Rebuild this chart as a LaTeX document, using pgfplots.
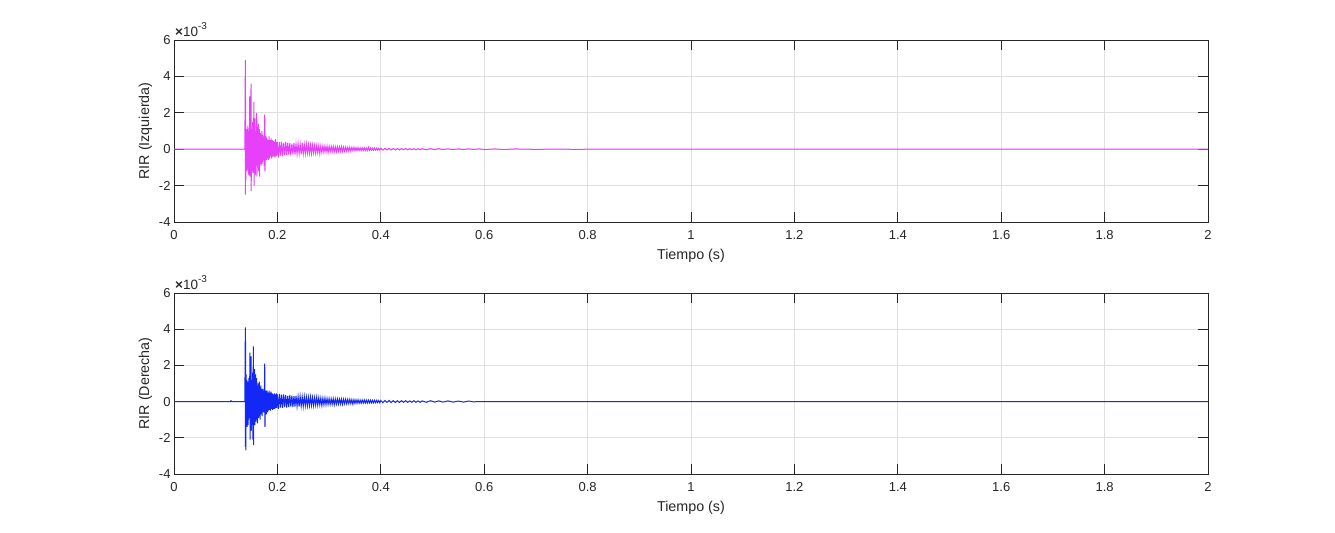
\documentclass[border=0pt]{standalone}
\usepackage{fontspec}
\setmainfont{Liberation Sans}
\usepackage{pgfplots}
\pgfplotsset{compat=1.18}

\definecolor{rirmag}{RGB}{230,64,250}
\definecolor{rirblue}{RGB}{20,40,245}
\definecolor{axgray}{RGB}{38,38,38}
\definecolor{gridgray}{RGB}{223,223,223}

\pgfplotsset{rirstyle/.style={
  scale only axis, width=1034bp,
  xmin=0, xmax=2, ymin=-4, ymax=6,
  xtick={0,0.2,0.4,0.6,0.8,1,1.2,1.4,1.6,1.8,2},
  xticklabels={0,0.2,0.4,0.6,0.8,1,1.2,1.4,1.6,1.8,2},
  ytick={-4,-2,0,2,4,6},
  yticklabels={-4,-2,0,2,4,6},
  grid=major, major grid style={gridgray, line width=0.8bp},
  axis line style={axgray, line width=0.8bp},
  tick style={axgray, line width=0.8bp},
  major tick length=10bp, tick align=inside,
  ticklabel style={font=\fontsize{13bp}{15bp}\selectfont, text=axgray},
  xticklabel style={yshift=-5bp},
  label style={font=\fontsize{14.3bp}{16bp}\selectfont, text=axgray},
  xlabel={Tiempo (s)},
  xlabel style={yshift=-3bp},
  clip mode=individual,
  every axis plot/.append style={line width=1bp, sharp plot, mark=none},
}}

\begin{document}
\begin{tikzpicture}
\path[use as bounding box] (0,0) rectangle (1335bp,533bp);

% canal izquierdo
\begin{axis}[rirstyle, at={(174bp,311bp)}, anchor=south west, height=182bp,
  ylabel={RIR (Izquierda)}]
\addplot[rirmag] coordinates {
(0,0) (0.137,0)
(0.1380,4.9) (0.1382,-2.5) (0.1385,2.7) (0.1388,-1.7) (0.1392,1.2) (0.1396,-1.0)
(0.1400,0.9) (0.1405,-0.8) (0.141,1.1) (0.1415,-1.2) (0.142,0.8) (0.1425,-0.9)
(0.143,1.3) (0.1435,-1.1) (0.144,0.9) (0.1445,-1.4) (0.145,1.0) (0.1455,-0.8)
(0.1465,2.9) (0.147,-1.5) (0.1475,1.2) (0.148,-1.0) (0.1490,3.6) (0.1493,-2.3)
(0.150,1.1) (0.1505,-1.2) (0.151,0.9) (0.1515,-1.0) (0.152,1.5) (0.1525,-1.3)
(0.153,1.0) (0.1535,-0.9) (0.1545,2.6) (0.155,-2.0) (0.1555,1.3) (0.156,-1.1)
(0.157,1.7) (0.1575,-1.4) (0.158,0.9) (0.1585,-0.8) (0.159,1.0) (0.1595,-0.9)
(0.160,2.0) (0.1605,-1.5) (0.161,0.8) (0.1615,-1.0) (0.162,0.9) (0.1625,-0.7)
(0.163,1.4) (0.1635,-1.2) (0.164,0.8) (0.1645,-0.7) (0.165,1.1) (0.1655,-1.5)
(0.166,0.7) (0.1665,-0.8) (0.167,0.9) (0.1675,-0.6) (0.168,0.8) (0.1685,-0.9)
(0.169,0.7) (0.1695,-0.6) (0.170,1.0) (0.1705,-0.8) (0.171,0.6) (0.1715,-0.7)
(0.172,0.8) (0.1725,-0.6) (0.173,0.7) (0.1735,-0.5) (0.174,0.6) (0.1745,-0.9)
(0.1755,1.9) (0.176,-1.2) (0.1765,0.6) (0.177,-0.5) (0.178,0.7) (0.1785,-0.6)
(0.179,0.5) (0.1795,-0.6) (0.180,0.6) (0.181,-0.5) (0.182,0.5) (0.183,-0.6)
(0.184,0.7) (0.185,-0.5) (0.186,0.5) (0.187,-0.4) (0.188,0.6) (0.189,-0.5)
(0.190,0.5) (0.191,-0.4) (0.192,0.45) (0.193,-0.4) (0.194,0.4) (0.195,-0.45)
(0.196,0.55) (0.197,-0.4) (0.198,0.4) (0.199,-0.35) (0.200,0.4)
(0.202,-0.45) (0.204,0.38) (0.206,-0.35) (0.208,0.42) (0.210,-0.38) (0.212,0.35)
(0.214,-0.33) (0.216,0.4) (0.218,-0.32) (0.220,0.36) (0.222,-0.3) (0.224,0.33)
(0.226,-0.35) (0.228,0.3) (0.230,-0.28) (0.232,0.34) (0.234,-0.3) (0.236,0.28)
(0.238,-0.27) (0.240,0.3) (0.242,-0.26) (0.244,0.27) (0.246,-0.28) (0.248,0.35)
(0.250,-0.25) (0.252,0.26) (0.254,-0.24) (0.256,0.28) (0.258,-0.22) (0.260,0.25)
(0.262,-0.23) (0.264,0.22) (0.266,-0.24) (0.268,0.22) (0.270,-0.2) (0.272,0.21)
(0.274,-0.22) (0.276,0.2) (0.278,-0.19) (0.280,0.2) (0.282,-0.25) (0.284,0.18)
(0.286,-0.18) (0.288,0.19) (0.290,-0.17) (0.292,0.18) (0.294,-0.16) (0.296,0.17)
(0.298,-0.2) (0.300,0.16) (0.302,-0.15) (0.304,0.16) (0.306,-0.14) (0.308,0.15)
(0.310,-0.14) (0.312,0.13) (0.314,-0.15) (0.316,0.14) (0.318,-0.13) (0.320,0.13)
(0.322,-0.12) (0.324,0.14) (0.326,-0.12) (0.328,0.12) (0.330,-0.11) (0.332,0.12)
(0.334,-0.11) (0.336,0.1) (0.338,-0.1) (0.340,0.11) (0.342,-0.1) (0.344,0.1)
(0.346,-0.09) (0.348,0.1) (0.350,-0.09) (0.352,0.09) (0.354,-0.08) (0.356,0.09)
(0.358,-0.08) (0.360,0.08) (0.362,-0.08) (0.364,0.08) (0.366,-0.07) (0.368,0.08)
(0.370,-0.07) (0.372,0.07) (0.374,-0.07) (0.376,0.1) (0.378,-0.06) (0.380,0.07)
(0.382,-0.06) (0.384,0.06) (0.386,-0.06) (0.388,0.06) (0.390,-0.05) (0.392,0.06)
(0.394,-0.05) (0.396,0.05) (0.398,-0.05) (0.400,0.05)
(0.404,-0.05) (0.408,0.05) (0.412,-0.04) (0.416,0.05) (0.420,-0.04) (0.424,0.04)
(0.428,-0.04) (0.432,0.04) (0.436,-0.04) (0.440,0.04) (0.444,-0.03) (0.448,0.04)
(0.452,-0.03) (0.456,0.03) (0.460,-0.03) (0.464,0.03) (0.468,-0.03) (0.472,0.03)
(0.476,-0.03) (0.480,0.03) (0.488,-0.03) (0.496,0.03) (0.504,-0.02) (0.512,0.03)
(0.520,-0.02) (0.530,0.02) (0.540,-0.02) (0.550,0.02) (0.560,-0.02) (0.570,0.02)
(0.580,-0.02) (0.590,0.02) (0.600,-0.02) (0.620,0.015) (0.640,-0.015) (0.660,0.015)
(0.700,-0.01) (0.740,0.01) (0.780,-0.01) (0.820,0.01) (0.830,0) (2,0)
};
\node[anchor=base west, inner sep=0pt, text=axgray,
  font=\fontsize{13.5bp}{15bp}\selectfont] at (rel axis cs:0,1) [xshift=1bp, yshift=3.5bp]
  {\textbf{×}10\raisebox{0.5em}{\fontsize{10bp}{11bp}\selectfont -3}};
\end{axis}

% canal derecho
\begin{axis}[rirstyle, at={(174bp,59bp)}, anchor=south west, height=181bp,
  ylabel={RIR (Derecha)}]
\addplot[rirblue] coordinates {
(0,0) (0.110,0) (0.1102,0.08) (0.1104,0) (0.137,0)
(0.1380,4.1) (0.1382,-2.5) (0.1386,3.4) (0.1390,-2.7) (0.1394,1.5) (0.1398,-1.2)
(0.1402,1.0) (0.1407,-0.9) (0.141,1.2) (0.1415,-1.4) (0.142,0.9) (0.1425,-1.0)
(0.143,1.1) (0.1435,-1.3) (0.144,0.8) (0.1445,-1.0) (0.145,1.3) (0.146,-0.9)
(0.1468,2.7) (0.1473,-2.1) (0.148,1.3) (0.1485,-1.0) (0.149,2.5) (0.1495,-1.6)
(0.150,1.2) (0.1505,-1.1) (0.151,1.0) (0.1515,-1.3) (0.152,1.6) (0.1525,-2.1)
(0.1535,3.05) (0.154,-2.4) (0.1545,1.4) (0.155,-1.2) (0.156,1.8) (0.1565,-1.3)
(0.157,1.0) (0.1575,-0.9) (0.158,1.5) (0.1585,-1.1) (0.159,0.9) (0.1595,-1.0)
(0.160,1.3) (0.1605,-0.8) (0.161,0.9) (0.1615,-1.2) (0.162,0.8) (0.1625,-0.7)
(0.163,1.0) (0.1635,-0.9) (0.164,0.7) (0.1645,-0.8) (0.165,1.1) (0.1655,-0.7)
(0.166,0.8) (0.1665,-1.0) (0.167,0.7) (0.1675,-0.6) (0.168,0.9) (0.1685,-0.7)
(0.169,0.6) (0.1695,-0.6) (0.170,0.7) (0.1705,-0.8) (0.171,0.6) (0.1715,-0.5)
(0.172,0.7) (0.1725,-0.6) (0.173,0.6) (0.1735,-0.5) (0.174,0.5) (0.1745,-0.6)
(0.1755,2.1) (0.176,-1.4) (0.1765,0.6) (0.177,-0.5) (0.178,0.6) (0.1785,-0.7)
(0.179,0.5) (0.1795,-0.5) (0.180,0.6) (0.181,-0.6) (0.182,0.5) (0.183,-0.5)
(0.184,0.6) (0.185,-0.45) (0.186,0.5) (0.187,-0.5) (0.188,0.55) (0.189,-0.4)
(0.190,0.45) (0.191,-0.45) (0.192,0.4) (0.193,-0.4) (0.194,0.45) (0.195,-0.4)
(0.196,0.4) (0.197,-0.35) (0.198,0.45) (0.199,-0.35) (0.200,0.4)
(0.202,-0.4) (0.204,0.42) (0.206,-0.33) (0.208,0.38) (0.210,-0.35) (0.212,0.4)
(0.214,-0.3) (0.216,0.35) (0.218,-0.33) (0.220,0.32) (0.222,-0.3) (0.224,0.36)
(0.226,-0.28) (0.228,0.33) (0.230,-0.3) (0.232,0.3) (0.234,-0.27) (0.236,0.32)
(0.238,-0.26) (0.240,0.28) (0.242,-0.28) (0.244,0.3) (0.246,-0.25) (0.248,0.26)
(0.250,-0.26) (0.252,0.28) (0.254,-0.23) (0.256,0.25) (0.258,-0.24) (0.260,0.24)
(0.262,-0.22) (0.264,0.26) (0.266,-0.21) (0.268,0.23) (0.270,-0.22) (0.272,0.22)
(0.274,-0.2) (0.276,0.24) (0.278,-0.2) (0.280,0.21) (0.282,-0.19) (0.284,0.2)
(0.286,-0.22) (0.288,0.19) (0.290,-0.18) (0.292,0.2) (0.294,-0.17) (0.296,0.18)
(0.298,-0.16) (0.300,0.17) (0.302,-0.16) (0.304,0.16) (0.306,-0.15) (0.308,0.16)
(0.310,-0.17) (0.312,0.15) (0.314,-0.14) (0.316,0.15) (0.318,-0.14) (0.320,0.14)
(0.322,-0.13) (0.324,0.14) (0.326,-0.15) (0.328,0.13) (0.330,-0.12) (0.332,0.13)
(0.334,-0.12) (0.336,0.12) (0.338,-0.11) (0.340,0.12) (0.342,-0.11) (0.344,0.11)
(0.346,-0.14) (0.348,0.1) (0.350,-0.1) (0.352,0.1) (0.354,-0.09) (0.356,0.1)
(0.358,-0.09) (0.360,0.09) (0.362,-0.09) (0.364,0.09) (0.366,-0.08) (0.368,0.09)
(0.370,-0.08) (0.372,0.08) (0.374,-0.08) (0.376,0.08) (0.378,-0.07) (0.380,0.08)
(0.382,-0.07) (0.384,0.07) (0.386,-0.07) (0.388,0.07) (0.390,-0.06) (0.392,0.07)
(0.394,-0.06) (0.396,0.06) (0.398,-0.06) (0.400,0.06)
(0.404,-0.06) (0.408,0.06) (0.412,-0.05) (0.416,0.06) (0.420,-0.05) (0.424,0.05)
(0.428,-0.05) (0.432,0.05) (0.436,-0.05) (0.440,0.05) (0.444,-0.04) (0.448,0.05)
(0.452,-0.04) (0.456,0.04) (0.460,-0.04) (0.464,0.05) (0.468,-0.04) (0.472,0.04)
(0.476,-0.04) (0.480,0.04) (0.488,-0.04) (0.496,0.05) (0.504,-0.03) (0.512,0.04)
(0.520,-0.03) (0.530,0.04) (0.540,-0.03) (0.550,0.03) (0.560,-0.03) (0.570,0.03)
(0.580,-0.02) (0.585,0) (2,0)
};
\node[anchor=base west, inner sep=0pt, text=axgray,
  font=\fontsize{13.5bp}{15bp}\selectfont] at (rel axis cs:0,1) [xshift=1bp, yshift=3.5bp]
  {\textbf{×}10\raisebox{0.5em}{\fontsize{10bp}{11bp}\selectfont -3}};
\end{axis}
\end{tikzpicture}
\end{document}
